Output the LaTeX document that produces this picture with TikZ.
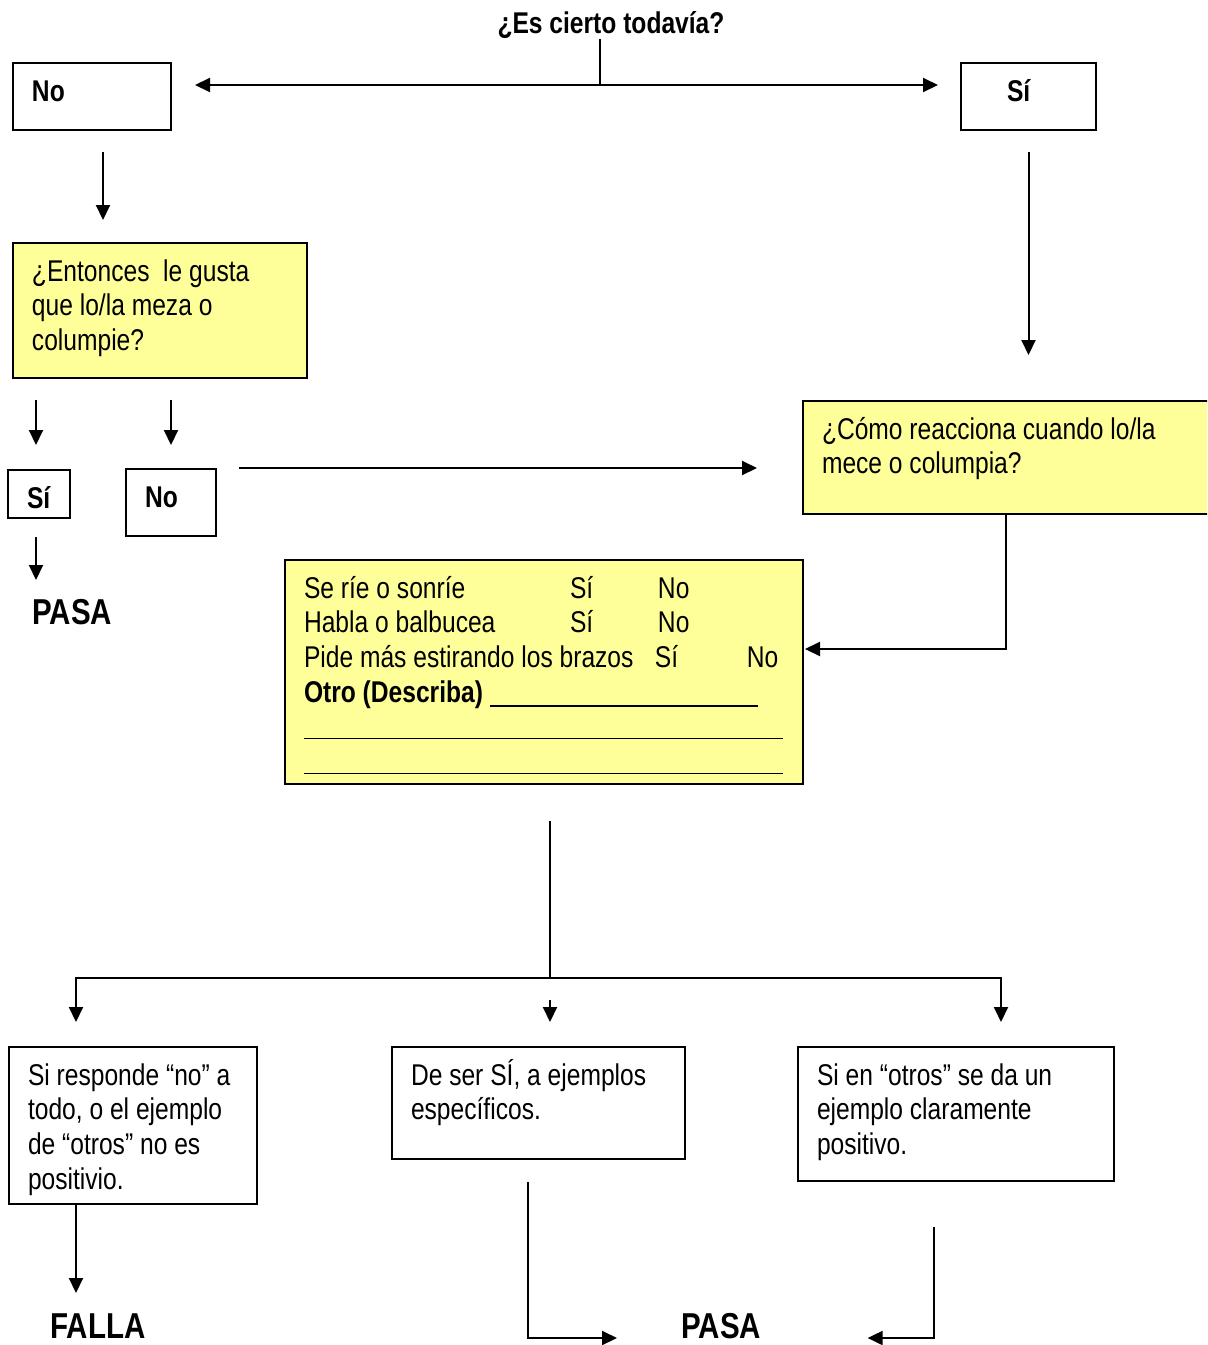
\documentclass[tikz,border=0pt]{standalone}
\usepackage{fontspec}
\setmainfont{Liberation Sans}[FakeStretch=0.82]
\usepackage{xcolor}
\usetikzlibrary{calc, arrows.meta, positioning}

\definecolor{paleyellow}{HTML}{FFFF99}
\newcommand{\topstrut}{\rule{0pt}{15pt}}
\newcommand{\boxtext}[3]{\parbox[c][\dimexpr#2-8pt\relax][t]{\dimexpr#1-19pt\relax}{\begin{tabular}[t]{@{}l@{}}\topstrut#3\end{tabular}}}

\begin{document}
\begin{tikzpicture}[x=0.5pt, y=-0.5pt, >={Triangle[length=7.5pt,width=7pt]}]
		\tikzstyle{box} = [draw=black, line width=1pt, outer sep=0pt, inner xsep=9.5pt, inner ysep=4pt, anchor=north west, font=\fontsize{15}{17.4}\selectfont]
		\tikzstyle{note} = [box, fill=paleyellow]
		\tikzstyle{bigbold} = [inner sep=0pt, anchor=base west, font=\fontsize{18}{21}\selectfont\bfseries]
		\tikzstyle{arrow} = [line width=1pt, ->]
		\tikzstyle{link} = [line width=1pt]

		\useasboundingbox (0,0) rectangle (1207,1345);
		\clip (0,0) rectangle (1207,1345);

		\node[inner sep=0pt, anchor=base, font=\fontsize{15}{17.4}\selectfont\bfseries]
			(title) at (611,33) {¿Es cierto todavía?};

		\node[box] 	(noTop) 	at (13,63) 	{\boxtext{79pt}{33.5pt}{\textbf{No}}};
		\node[box] 	(siTop) 	at (961,63) 	{\boxtext{67.5pt}{33.5pt}{\hspace*{13.5pt}\textbf{Sí}}};
		\node[note] 	(entonces) 	at (13,243) 	{\boxtext{147pt}{67.5pt}{¿Entonces\ \ le gusta\\ que lo/la meza o\\ columpie?}};
		\node[note] 	(como) 		at (803,401) 	{\boxtext{203pt}{56.5pt}{¿Cómo reacciona cuando lo/la\\ mece o columpia?}};
		\node[box] 	(siMid) 	at (8,470) 	{\boxtext{31pt}{24pt}{\textbf{Sí}}};
		\node[box] 	(noMid) 	at (126,469) 	{\boxtext{45pt}{33.5pt}{\textbf{No}}};
		\node[note] 	(check) 	at (285,560) 	{\boxtext{259pt}{112pt}{%
			\makebox[133pt][l]{Se ríe o sonríe}\makebox[44pt][l]{Sí}No\\
			\makebox[133pt][l]{Habla o balbucea}\makebox[44pt][l]{Sí}No\\
			\makebox[175.5pt][l]{Pide más estirando los brazos}\makebox[46pt][l]{Sí}No\\
			\textbf{Otro (Describa)} \rule[-2.5pt]{134pt}{1.4pt}\\
			\rule[-1pt]{239.5pt}{0.6pt}\\
			\rule[-1pt]{239.5pt}{0.5pt}}};
		\node[box] 	(res1) 		at (9,1047) 	{\boxtext{124pt}{78.5pt}{Si responde “no” a\\ todo, o el ejemplo\\ de “otros” no es\\ positivio.}};
		\node[box] 	(res2) 		at (392,1047) 	{\boxtext{146.5pt}{56pt}{De ser SÍ, a ejemplos\\ específicos.}};
		\node[box] 	(res3) 		at (798,1047) 	{\boxtext{158pt}{67pt}{Si en “otros” se da un\\ ejemplo claramente\\ positivo.}};

		\node[bigbold] 	(pasa1) 	at (32,624) 	{PASA};
		\node[bigbold] 	(falla) 	at (50,1338) 	{FALLA};
		\node[bigbold] 	(pasa2) 	at (681,1338) 	{PASA};

		\coordinate (split) at (600,85);
		\coordinate (merge) at (550,978);

		\draw[link] (title.south -| split) -- (split);
		\draw[arrow] (split) -- ($(noTop.east |- split)+(24,0)$);
		\draw[arrow] (split) -- ($(siTop.west |- split)+(-23,0)$);
		\draw[arrow] ($(noTop.south west)+(90,22)$) -- ($(entonces.north west)+(90,-23)$);
		\draw[arrow] ($(siTop.south)+(0,22)$) -- ($(siTop.south |- como.north)+(0,-46)$);
		\draw[arrow] ($(entonces.south west)+(23,22)$) -- ($(siMid.north west)+(28,-25)$);
		\draw[arrow] ($(noMid.north |- entonces.south)+(0,22)$) -- ($(noMid.north)+(0,-24)$);
		\draw[arrow] ($(noMid.north east)+(23,-1)$) -- ($(noMid.north east -| como.west)+(-46,-1)$);
		\draw[arrow] ($(siMid.south west)+(28,19)$) -- ($(siMid.south west)+(28,62)$);
		\draw[arrow] (como.south) |- ($(check.north east)+(2,89)$);

		\draw[link] ($(check.south -| merge)+(0,37)$) -- (merge);
		\draw[link, <->] ($(res1.north west)+(67,-25)$) |- (merge) -| ($(res3.north west)+(203,-25)$);
		\draw[arrow] ($(merge)+(0,22)$) -- ($(res2.north -| merge)+(0,-25)$);

		\draw[arrow] ($(res1.south west)+(67,0)$) -- ($(res1.south west)+(67,89)$);
		\draw[arrow] ($(res2.south west)+(136,23)$) |- ($(pasa2.base west)+(-64,0)$);
		\draw[arrow] ($(res3.south west)+(136,46)$) |- ($(pasa2.base east)+(106,0)$);
	\end{tikzpicture}
\end{document}
